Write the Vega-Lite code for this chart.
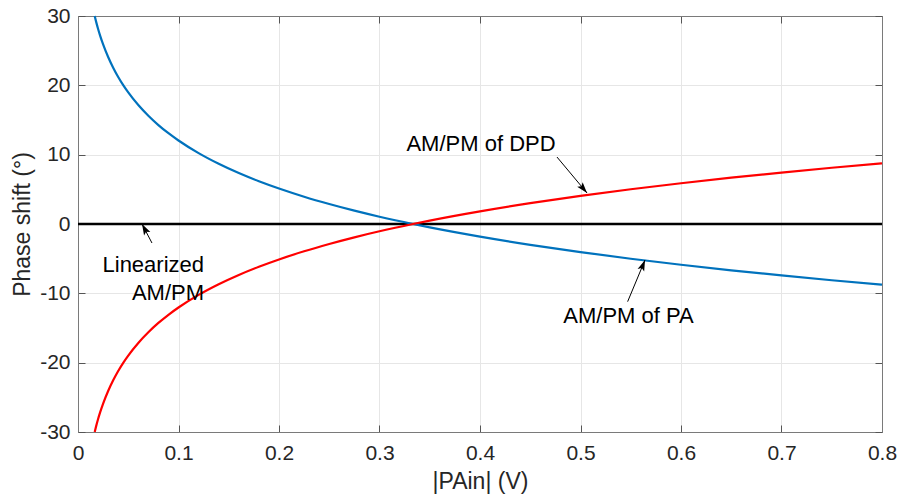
{
  "$schema": "https://vega.github.io/schema/vega-lite/v6.json",
  "width": 804,
  "height": 416,
  "autosize": {"type": "none"},
  "padding": {"left": 78, "top": 16, "right": 21, "bottom": 70},
  "background": "white",
  "config": {
    "view": {"stroke": "#7a7a7a", "strokeWidth": 1},
    "font": "Liberation Sans",
    "axis": {
      "labelFont": "Liberation Sans",
      "titleFont": "Liberation Sans",
      "labelFontSize": 21,
      "titleFontSize": 23,
      "labelColor": "#262626",
      "titleColor": "#262626",
      "titleFontWeight": "normal",
      "domainColor": "#7a7a7a",
      "tickColor": "#555555",
      "gridColor": "#e6e6e6",
      "gridWidth": 1,
      "labelFlush": false,
      "labelOverlap": false
    }
  },
  "datasets": {
    "curves": [
      {"series": "PA", "x": 0.0166, "y": 30.0},
      {"series": "PA", "x": 0.018, "y": 29.19},
      {"series": "PA", "x": 0.02, "y": 28.13},
      {"series": "PA", "x": 0.022, "y": 27.18},
      {"series": "PA", "x": 0.025, "y": 25.9},
      {"series": "PA", "x": 0.03, "y": 24.08},
      {"series": "PA", "x": 0.035, "y": 22.54},
      {"series": "PA", "x": 0.04, "y": 21.2},
      {"series": "PA", "x": 0.045, "y": 20.02},
      {"series": "PA", "x": 0.05, "y": 18.97},
      {"series": "PA", "x": 0.06, "y": 17.15},
      {"series": "PA", "x": 0.07, "y": 15.61},
      {"series": "PA", "x": 0.08, "y": 14.27},
      {"series": "PA", "x": 0.09, "y": 13.09},
      {"series": "PA", "x": 0.1, "y": 12.04},
      {"series": "PA", "x": 0.12, "y": 10.22},
      {"series": "PA", "x": 0.14, "y": 8.68},
      {"series": "PA", "x": 0.16, "y": 7.34},
      {"series": "PA", "x": 0.18, "y": 6.16},
      {"series": "PA", "x": 0.2, "y": 5.11},
      {"series": "PA", "x": 0.225, "y": 3.93},
      {"series": "PA", "x": 0.25, "y": 2.88},
      {"series": "PA", "x": 0.275, "y": 1.92},
      {"series": "PA", "x": 0.3, "y": 1.05},
      {"series": "PA", "x": 0.3333, "y": 0.0},
      {"series": "PA", "x": 0.35, "y": -0.49},
      {"series": "PA", "x": 0.4, "y": -1.82},
      {"series": "PA", "x": 0.45, "y": -3.0},
      {"series": "PA", "x": 0.5, "y": -4.05},
      {"series": "PA", "x": 0.55, "y": -5.01},
      {"series": "PA", "x": 0.6, "y": -5.88},
      {"series": "PA", "x": 0.65, "y": -6.68},
      {"series": "PA", "x": 0.7, "y": -7.42},
      {"series": "PA", "x": 0.75, "y": -8.11},
      {"series": "PA", "x": 0.8, "y": -8.75},
      {"series": "DPD", "x": 0.0166, "y": -30.0},
      {"series": "DPD", "x": 0.018, "y": -29.19},
      {"series": "DPD", "x": 0.02, "y": -28.13},
      {"series": "DPD", "x": 0.022, "y": -27.18},
      {"series": "DPD", "x": 0.025, "y": -25.9},
      {"series": "DPD", "x": 0.03, "y": -24.08},
      {"series": "DPD", "x": 0.035, "y": -22.54},
      {"series": "DPD", "x": 0.04, "y": -21.2},
      {"series": "DPD", "x": 0.045, "y": -20.02},
      {"series": "DPD", "x": 0.05, "y": -18.97},
      {"series": "DPD", "x": 0.06, "y": -17.15},
      {"series": "DPD", "x": 0.07, "y": -15.61},
      {"series": "DPD", "x": 0.08, "y": -14.27},
      {"series": "DPD", "x": 0.09, "y": -13.09},
      {"series": "DPD", "x": 0.1, "y": -12.04},
      {"series": "DPD", "x": 0.12, "y": -10.22},
      {"series": "DPD", "x": 0.14, "y": -8.68},
      {"series": "DPD", "x": 0.16, "y": -7.34},
      {"series": "DPD", "x": 0.18, "y": -6.16},
      {"series": "DPD", "x": 0.2, "y": -5.11},
      {"series": "DPD", "x": 0.225, "y": -3.93},
      {"series": "DPD", "x": 0.25, "y": -2.88},
      {"series": "DPD", "x": 0.275, "y": -1.92},
      {"series": "DPD", "x": 0.3, "y": -1.05},
      {"series": "DPD", "x": 0.3333, "y": 0.0},
      {"series": "DPD", "x": 0.35, "y": 0.49},
      {"series": "DPD", "x": 0.4, "y": 1.82},
      {"series": "DPD", "x": 0.45, "y": 3.0},
      {"series": "DPD", "x": 0.5, "y": 4.05},
      {"series": "DPD", "x": 0.55, "y": 5.01},
      {"series": "DPD", "x": 0.6, "y": 5.88},
      {"series": "DPD", "x": 0.65, "y": 6.68},
      {"series": "DPD", "x": 0.7, "y": 7.42},
      {"series": "DPD", "x": 0.75, "y": 8.11},
      {"series": "DPD", "x": 0.8, "y": 8.75}
    ],
    "linear": [
      {"x": 0, "y": 0},
      {"x": 0.8, "y": 0}
    ],
    "arrows": [
      {"arrow": "DPD", "x": 0.4766, "y": 9.66, "x2": 0.5065, "y2": 4.47},
      {"arrow": "PA", "x": 0.5469, "y": -11.2, "x2": 0.5642, "y2": -5.19},
      {"arrow": "LIN", "x": 0.0736, "y": -2.74, "x2": 0.0637, "y2": 0.0}
    ],
    "labels": [
      {"text": "AM/PM of DPD", "x": 0.401, "y": 11.6, "align": "center"},
      {"text": "AM/PM of PA", "x": 0.5478, "y": -13.34, "align": "center"},
      {"text": "Linearized", "x": 0.1254, "y": -5.91, "align": "right"},
      {"text": "AM/PM", "x": 0.1254, "y": -9.95, "align": "right"}
    ]
  },
  "layer": [
    {
      "data": {"name": "linear"},
      "mark": {"type": "line", "color": "#000000", "strokeWidth": 2.5},
      "encoding": {
        "x": {"field": "x", "type": "quantitative", "scale": {"domain": [0, 0.8], "nice": false},
          "axis": {"orient": "top", "labels": false, "grid": false, "title": null, "values": [0, 0.1, 0.2, 0.3, 0.4, 0.5, 0.6, 0.7, 0.8], "tickSize": -7, "domain": true}},
        "y": {"field": "y", "type": "quantitative", "scale": {"domain": [-30, 30], "nice": false},
          "axis": {"orient": "right", "labels": false, "grid": false, "title": null, "values": [-30, -20, -10, 0, 10, 20, 30], "tickSize": -7, "domain": true}}
      }
    },
    {
      "data": {"name": "curves"},
      "mark": {"type": "line", "strokeWidth": 2.2, "interpolate": "monotone"},
      "encoding": {
        "x": {"field": "x", "type": "quantitative", "scale": {"domain": [0, 0.8], "nice": false},
          "axis": {"orient": "bottom", "title": "|PAin| (V)", "values": [0, 0.1, 0.2, 0.3, 0.4, 0.5, 0.6, 0.7, 0.8], "format": "~g", "grid": true, "tickSize": -7, "labelPadding": 17, "titlePadding": 7}},
        "y": {"field": "y", "type": "quantitative", "scale": {"domain": [-30, 30], "nice": false},
          "axis": {"orient": "left", "title": "Phase shift (°)", "values": [-30, -20, -10, 0, 10, 20, 30], "labelExpr": "replace(datum.label, '\u2212', '-')", "grid": true, "tickSize": -7, "labelPadding": 15, "titlePadding": 5}},
        "color": {"field": "series", "type": "nominal", "scale": {"domain": ["PA", "DPD"], "range": ["#0072BD", "#FF0000"]}, "legend": null},
        "detail": {"field": "series"}
      }
    },
    {
      "data": {"name": "arrows"},
      "mark": {"type": "rule", "color": "#000000", "strokeWidth": 1},
      "encoding": {
        "x": {"field": "x", "type": "quantitative", "axis": null},
        "y": {"field": "y", "type": "quantitative", "axis": null},
        "x2": {"field": "x2"},
        "y2": {"field": "y2"}
      }
    },
    {
      "data": {"name": "arrows"},
      "transform": [{"filter": "datum.arrow == 'DPD'"}],
      "mark": {"type": "point", "shape": "M0,0L-0.45,1.4L0,1.1L0.45,1.4Z", "filled": true, "color": "#000000", "opacity": 1, "size": 250, "angle": 140},
      "encoding": {
        "x": {"field": "x2", "type": "quantitative", "axis": null},
        "y": {"field": "y2", "type": "quantitative", "axis": null}
      }
    },
    {
      "data": {"name": "arrows"},
      "transform": [{"filter": "datum.arrow == 'PA'"}],
      "mark": {"type": "point", "shape": "M0,0L-0.45,1.4L0,1.1L0.45,1.4Z", "filled": true, "color": "#000000", "opacity": 1, "size": 250, "angle": 22},
      "encoding": {
        "x": {"field": "x2", "type": "quantitative", "axis": null},
        "y": {"field": "y2", "type": "quantitative", "axis": null}
      }
    },
    {
      "data": {"name": "arrows"},
      "transform": [{"filter": "datum.arrow == 'LIN'"}],
      "mark": {"type": "point", "shape": "M0,0L-0.45,1.4L0,1.1L0.45,1.4Z", "filled": true, "color": "#000000", "opacity": 1, "size": 250, "angle": 332},
      "encoding": {
        "x": {"field": "x2", "type": "quantitative", "axis": null},
        "y": {"field": "y2", "type": "quantitative", "axis": null}
      }
    },
    {
      "data": {"name": "labels"},
      "transform": [{"filter": "datum.align == 'center'"}],
      "mark": {"type": "text", "font": "Liberation Sans", "fontSize": 22, "color": "#000000", "align": "center", "baseline": "middle"},
      "encoding": {
        "x": {"field": "x", "type": "quantitative", "axis": null},
        "y": {"field": "y", "type": "quantitative", "axis": null},
        "text": {"field": "text"}
      }
    },
    {
      "data": {"name": "labels"},
      "transform": [{"filter": "datum.align == 'right'"}],
      "mark": {"type": "text", "font": "Liberation Sans", "fontSize": 22, "color": "#000000", "align": "right", "baseline": "middle"},
      "encoding": {
        "x": {"field": "x", "type": "quantitative", "axis": null},
        "y": {"field": "y", "type": "quantitative", "axis": null},
        "text": {"field": "text"}
      }
    }
  ],
  "resolve": {"axis": {"x": "independent", "y": "independent"}}
}
